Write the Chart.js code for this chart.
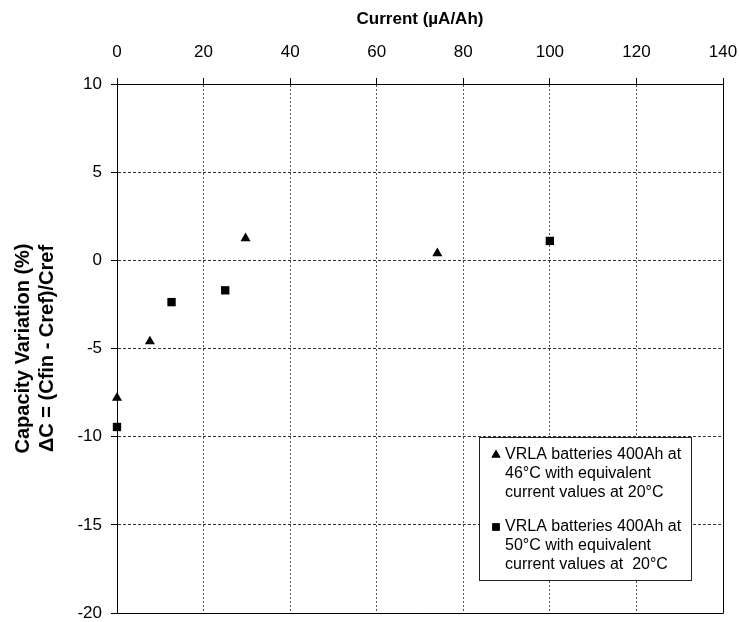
<!DOCTYPE html>
<html>
<head>
<meta charset="utf-8">
<title>Capacity variation vs current</title>
<script src="https://cdn.jsdelivr.net/npm/chart.js@4.4.1/dist/chart.umd.min.js"></script>
<style>
  html, body { margin: 0; padding: 0; background: #fff; }
  #wrap { width: 739px; height: 622px; }
</style>
</head>
<body>
<div id="wrap"><canvas id="chart" width="739" height="622"></canvas></div>
<script>
// ── Data ──────────────────────────────────────────────────────────────────────
const currents46 = [0, 7.6, 29.7, 74];          // µA/Ah, triangles
const variation46 = [-7.8, -4.6, 1.25, 0.4];    // %
const currents50 = [0, 12.6, 25, 100];          // µA/Ah, squares
const variation50 = [-9.45, -2.37, -1.7, 1.1];  // %

const xTicks = [0, 20, 40, 60, 80, 100, 120, 140];
const yTicks = [-20, -15, -10, -5, 0, 5, 10];

const legend46 = ["VRLA batteries 400Ah at", "46°C with equivalent", "current values at 20°C"];
const legend50 = ["VRLA batteries 400Ah at", "50°C with equivalent", "current values at  20°C"];

const FONT = "Arial, 'Liberation Sans', sans-serif";

const toPoints = (xs, ys) => xs.map((x, i) => ({ x, y: ys[i] }));

// ── Plugins ───────────────────────────────────────────────────────────────────
// Solid frame on the right and bottom edges (top/left are the axis borders)
const framePlugin = {
  id: "frame",
  beforeDatasetsDraw(chart) {
    const { ctx, chartArea: a } = chart;
    ctx.save();
    ctx.strokeStyle = "#000";
    ctx.lineWidth = 1;
    ctx.setLineDash([]);
    ctx.beginPath();
    ctx.moveTo(Math.round(a.right) + 0.5, Math.round(a.top));
    ctx.lineTo(Math.round(a.right) + 0.5, Math.round(a.bottom) + 0.5);
    ctx.lineTo(Math.round(a.left), Math.round(a.bottom) + 0.5);
    ctx.stroke();
    ctx.restore();
  },
};

// Boxed legend with wrapped labels, drawn inside the plot
const boxLegendPlugin = {
  id: "boxLegend",
  afterDraw(chart) {
    const { ctx } = chart;
    const box = { x: 479.5, y: 437.5, w: 212, h: 143 };
    ctx.save();
    ctx.fillStyle = "#fff";
    ctx.fillRect(box.x, box.y, box.w, box.h);
    ctx.strokeStyle = "#222";
    ctx.lineWidth = 1;
    ctx.strokeRect(box.x, box.y, box.w, box.h);

    ctx.font = "16px " + FONT;
    ctx.fillStyle = "#000";
    ctx.textBaseline = "middle";
    ctx.textAlign = "left";

    const entries = [
      { lines: legend46, style: "triangle", top: 455 },
      { lines: legend50, style: "rect", top: 527 },
    ];
    entries.forEach((e) => {
      Chart.helpers.drawPoint(ctx, { pointStyle: e.style, radius: 5.2, borderWidth: 0 }, 496, e.top);
      ctx.fillStyle = "#000";
      ctx.fill();
      e.lines.forEach((line, i) => ctx.fillText(line, 505, e.top + i * 19));
    });
    ctx.restore();
  },
};

const whiteBg = {
  id: "whiteBg",
  beforeDraw(chart) {
    const { ctx, width, height } = chart;
    ctx.save();
    ctx.fillStyle = "#fff";
    ctx.fillRect(0, 0, width, height);
    ctx.restore();
  },
};

// ── Chart ─────────────────────────────────────────────────────────────────────
const gridStyle = {
  color: "#333",
  lineWidth: 1,
  tickLength: 6,
  tickColor: "#000",
  drawTicks: true,
};

new Chart(document.getElementById("chart"), {
  type: "scatter",
  data: {
    datasets: [
      {
        label: legend46.join(" "),
        data: toPoints(currents46, variation46),
        pointStyle: "triangle",
        pointRadius: 5.8,
        pointBackgroundColor: "#000",
        pointBorderColor: "#000",
        pointBorderWidth: 0,
        clip: false,
      },
      {
        label: legend50.join(" "),
        data: toPoints(currents50, variation50),
        pointStyle: "rect",
        pointRadius: 5.9,
        pointBackgroundColor: "#000",
        pointBorderColor: "#000",
        pointBorderWidth: 0,
        clip: false,
      },
    ],
  },
  options: {
    responsive: false,
    animation: false,
    devicePixelRatio: 1,
    layout: { padding: { top: 0, left: 0, right: 16, bottom: 9 } },
    plugins: {
      legend: { display: false },
      tooltip: { enabled: false },
    },
    scales: {
      x: {
        type: "linear",
        position: "top",
        min: xTicks[0],
        max: xTicks[xTicks.length - 1],
        afterBuildTicks: (s) => { s.ticks = xTicks.map((v) => ({ value: v })); },
        afterFit: (s) => { s.height = 84; s.paddingLeft = 0; s.paddingRight = 0; },
        ticks: { color: "#000", font: { family: FONT, size: 17 }, padding: 15, maxRotation: 0 },
        grid: { ...gridStyle, color: "#555" },
        border: { color: "#000", width: 1, dash: [2, 2] },
        title: {
          display: true,
          text: "Current (µA/Ah)",
          color: "#000",
          font: { family: FONT, size: 17, weight: "bold", lineHeight: 1.2 },
          padding: { top: 9, bottom: 0 },
        },
      },
      y: {
        type: "linear",
        position: "left",
        min: yTicks[0],
        max: yTicks[yTicks.length - 1],
        afterBuildTicks: (s) => { s.ticks = yTicks.map((v) => ({ value: v })); },
        afterFit: (s) => { s.width = 117; s.paddingTop = 0; s.paddingBottom = 0; },
        ticks: { color: "#000", font: { family: FONT, size: 17 }, padding: 9 },
        grid: gridStyle,
        border: { color: "#000", width: 1, dash: [3, 2] },
        title: {
          display: true,
          text: ["Capacity Variation (%)", "ΔC = (Cfin - Cref)/Cref"],
          color: "#000",
          font: { family: FONT, size: 20, weight: "bold", lineHeight: 1.2 },
          padding: { top: 11, bottom: 0 },
        },
      },
    },
  },
  plugins: [whiteBg, framePlugin, boxLegendPlugin],
});
</script>
</body>
</html>
